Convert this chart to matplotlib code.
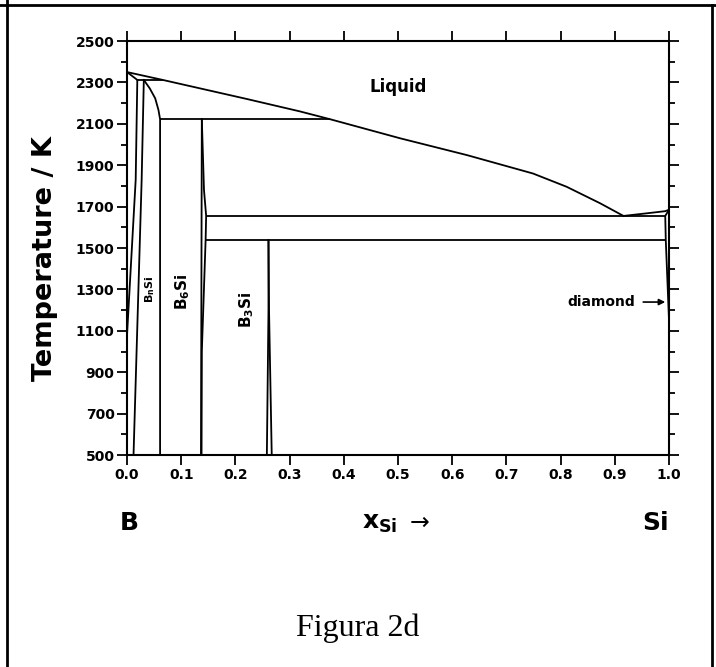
import numpy as np
import matplotlib.pyplot as plt
from matplotlib.lines import Line2D
from matplotlib.ticker import MultipleLocator

# liquidus, from B melting point to the eutectic
liq_x = [0.0, 0.066, 0.221, 0.319, 0.375, 0.504, 0.627, 0.749, 0.811, 0.873, 0.916]
liq_T = [2350, 2312, 2220, 2160, 2122, 2030, 1949, 1860, 1796, 1716, 1655]
# liquidus on the Si side
liq_si_x = [0.916, 0.96, 0.993, 1.0]
liq_si_T = [1655, 1668, 1678, 1685]

# phase boundaries
b_sol_x, b_sol_T = [0.0, 0.019], [2350, 2312]
b_solv_x, b_solv_T = [0.0, 0.016, 0.019], [1080, 1830, 2312]
bn_left_x, bn_left_T = [0.012, 0.027, 0.031], [500, 1830, 2312]
bn_right_x = [0.031, 0.042, 0.052, 0.058, 0.061, 0.061]
bn_right_T = [2312, 2271, 2223, 2167, 2122, 500]
b6_left_x, b6_left_T = [0.1365, 0.138], [500, 2122]
b6_right_x = [0.138, 0.142, 0.146, 0.145, 0.138, 0.1375]
b6_right_T = [2122, 1780, 1655, 1538, 1000, 500]
b3_left_x, b3_left_T = [0.261, 0.261, 0.258], [1538, 1200, 500]
b3_right_x, b3_right_T = [0.261, 0.262, 0.267], [1538, 1200, 500]
si_x, si_T = [1.0, 0.993, 0.994, 1.0], [1685, 1655, 1538, 1150]

# invariant (horizontal) lines
iso_T = [2312, 2122, 1655, 1538]
iso_x0 = [0.019, 0.061, 0.146, 0.145]
iso_x1 = [0.066, 0.375, 0.993, 0.994]

x_ticks = [0.0, 0.1, 0.2, 0.3, 0.4, 0.5, 0.6, 0.7, 0.8, 0.9, 1.0]
y_ticks = [500, 700, 900, 1100, 1300, 1500, 1700, 1900, 2100, 2300, 2500]

fig = plt.figure(figsize=(7.16, 6.67), dpi=100)
ax = fig.add_axes([0.1774, 0.3178, 0.757, 0.6207])

lw = 1.3
ax.plot(liq_x, liq_T, color='black', lw=lw)
ax.plot(liq_si_x, liq_si_T, color='black', lw=lw)
for xs, ts in [(b_sol_x, b_sol_T), (b_solv_x, b_solv_T), (bn_left_x, bn_left_T),
               (bn_right_x, bn_right_T), (b6_left_x, b6_left_T), (b6_right_x, b6_right_T),
               (b3_left_x, b3_left_T), (b3_right_x, b3_right_T), (si_x, si_T)]:
    ax.plot(xs, ts, color='black', lw=lw)
ax.hlines(iso_T, iso_x0, iso_x1, color='black', lw=lw)

ax.set_xlim(0, 1)
ax.set_ylim(500, 2500)
ax.set_xticks(x_ticks)
ax.set_xticklabels([f'{v:.1f}' for v in x_ticks], fontweight='bold', fontsize=10)
ax.set_yticks(y_ticks)
ax.set_yticklabels([str(v) for v in y_ticks], fontweight='bold', fontsize=10)
ax.yaxis.set_minor_locator(MultipleLocator(100))
ax.tick_params(which='both', direction='out', top=True, right=True,
               labeltop=False, labelright=False, width=1.3, pad=2)
ax.tick_params(which='major', length=7)
ax.tick_params(which='minor', length=4.5)
for s in ax.spines.values():
    s.set_linewidth(1.5)

ax.set_ylabel('Temperature / K', fontsize=19.5, fontweight='bold')
ax.yaxis.set_label_coords(-0.127, 0.475)

# phase labels
ax.text(0.5, 2280, 'Liquid', fontsize=12, fontweight='bold', ha='center', va='center')
ax.text(0.043, 1300, 'B$_{\\mathbf{n}}$Si', fontsize=8, fontweight='bold', rotation=90,
        ha='center', va='center')
ax.text(0.103, 1290, 'B$_{\\mathbf{6}}$Si', fontsize=11, fontweight='bold', rotation=90,
        ha='center', va='center')
ax.text(0.221, 1200, 'B$_{\\mathbf{3}}$Si', fontsize=11, fontweight='bold', rotation=90,
        ha='center', va='center')
ax.annotate('diamond', xy=(0.993, 1239), xytext=(0.937, 1239), fontsize=10,
            fontweight='bold', ha='right', va='center',
            arrowprops=dict(arrowstyle='-|>', color='black', lw=1.2, mutation_scale=9,
                            shrinkA=4, shrinkB=0))

trans = ax.get_xaxis_transform()
ax.text(0.004, -0.164, 'B', transform=trans, fontsize=18, fontweight='bold',
        ha='center', va='center')
ax.text(1.0, -0.164, 'Si', transform=trans, fontsize=18, fontweight='bold',
        ha='right', va='center')
ax.text(0.467, -0.164, 'x$_{\\mathbf{Si}}$', transform=trans, fontsize=18,
        fontweight='bold', ha='center', va='center')
ax.text(0.539, -0.164, '\u2192', transform=trans, fontsize=17,
        ha='center', va='center')

fig.text(0.5, 0.058, 'Figura 2d', fontsize=23, family='Liberation Serif',
         ha='center', va='center')

# frame of the table cell
fig.add_artist(Line2D([0, 1], [1 - 5 / 667, 1 - 5 / 667], color='black', lw=2,
                      transform=fig.transFigure))
fig.add_artist(Line2D([7 / 716, 7 / 716], [0, 1], color='black', lw=2,
                      transform=fig.transFigure))
fig.add_artist(Line2D([712 / 716, 712 / 716], [0, 1 - 5 / 667], color='black', lw=2,
                      transform=fig.transFigure))

fig.savefig('out.png', dpi=100)
